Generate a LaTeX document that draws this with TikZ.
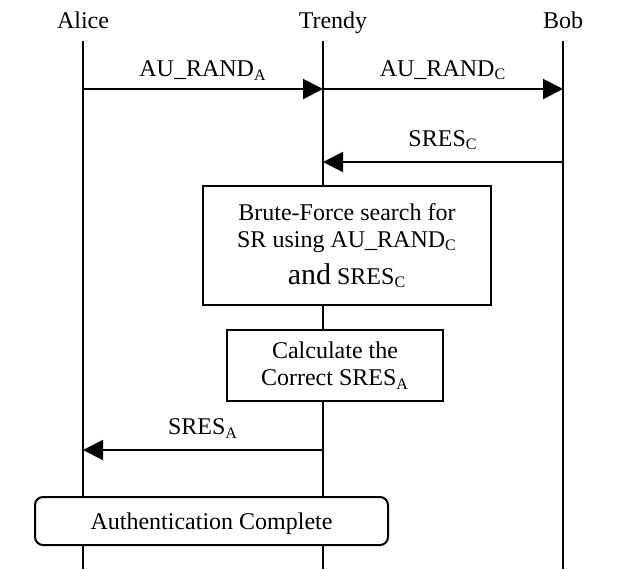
\documentclass[tikz,border=0pt]{standalone}
\usepackage{fontspec}
\setmainfont{Liberation Serif}
\usetikzlibrary{arrows.meta}
\usetikzlibrary{positioning}
\tikzset{
  actor/.style={anchor=base, inner sep=0, font=\fontsize{12}{13.5}\selectfont},
  lifeline/.style={line width=0.75pt},
  msg/.style={-{Triangle[length=10pt,width=10pt]}, line width=1pt},
  msglabel/.style={above=4pt, inner sep=0, font=\fontsize{12}{13.5}\selectfont},
  stepbox/.style={draw, line width=1pt, fill=white, align=center, inner sep=0,
    font=\fontsize{12}{13.5}\selectfont}
}

\begin{document}
\begin{tikzpicture}[x=0.5pt,y=-0.5pt]
\useasboundingbox (0,0) rectangle (625,569);
\node[actor] (alice) at (83,28) {Alice};
\node[actor] (trendy) at (333,28) {Trendy};
\node[actor] (bob) at (563,28) {Bob};
\foreach \n/\x in {alice/83, trendy/323, bob/563} {
  \coordinate (\n top) at (\x,41);
  \coordinate (\n end) at (\x,569);
  \draw[lifeline] (\n top) -- (\n end);
}

\coordinate (a1) at (83,89);
\coordinate (t1) at (323,89);
\coordinate (b1) at (563,89);
\coordinate (t2) at (323,162);
\coordinate (b2) at (563,162);
\coordinate (a3) at (83,450);
\coordinate (t3) at (323,450);

\draw[msg] (a1) -- node[msglabel] {AU\_RAND\textsubscript{A}} (t1);
\draw[msg] (t1) -- node[msglabel] {AU\_RAND\textsubscript{C}} (b1);
\draw[msg] (b2) -- node[msglabel, above=5.5pt] {SRES\textsubscript{C}} (t2);

\node[stepbox, minimum width=144pt, minimum height=59.5pt] (search) at (347,245.5)
  {Brute-Force search for\\ SR using AU\_RAND\textsubscript{C}\\[5pt]
   {\fontsize{15}{18}\selectfont and} SRES\textsubscript{C}};
\node[stepbox, minimum width=108pt, minimum height=35.5pt] (calc) at (335,365.5)
  {Calculate the\\ Correct SRES\textsubscript{A}};

\draw[msg] (t3) -- node[msglabel, above=5.5pt] {SRES\textsubscript{A}} (a3);

\node[stepbox, rounded corners=4pt, minimum width=176.5pt, minimum height=24pt,
  text depth=0pt] (done) at (211.5,521) {Authentication Complete};
\end{tikzpicture}
\end{document}
